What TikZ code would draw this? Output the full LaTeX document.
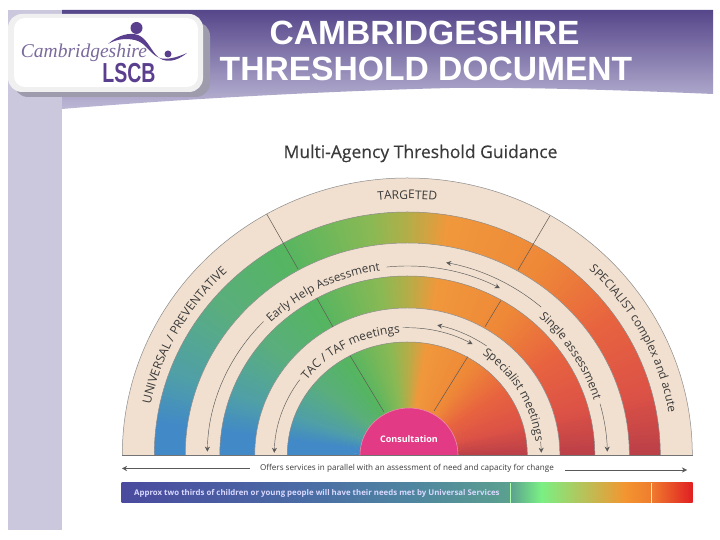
\documentclass[tikz,border=0pt]{standalone}
\usepackage{fontspec}
\setmainfont{Open Sans}
\newfontfamily\headfont{Liberation Sans}
\newfontfamily\logofont{Liberation Serif}
\usetikzlibrary{arrows.meta,decorations.text}
\definecolor{strip}{HTML}{CBC8DD}
\definecolor{headtop}{HTML}{56468A}
\definecolor{headbot}{HTML}{BDB8D6}
\definecolor{beige}{HTML}{F1E0CF}
\definecolor{ink}{HTML}{3A3A3A}
\definecolor{logop}{HTML}{5B3F8F}
\definecolor{logol}{HTML}{7A6A9C}
\definecolor{pink}{HTML}{E23A85}
\definecolor{c0}{HTML}{BC4048}
\definecolor{c1}{HTML}{DC5246}
\definecolor{c2}{HTML}{E8643F}
\definecolor{c3}{HTML}{EE8838}
\definecolor{c4}{HTML}{F0983C}
\definecolor{c5}{HTML}{B5AD48}
\definecolor{c6}{HTML}{8AB954}
\definecolor{c7}{HTML}{55B561}
\definecolor{c8}{HTML}{5AAE7D}
\definecolor{c9}{HTML}{4F9FA8}
\definecolor{c10}{HTML}{4189C7}
\definecolor{barA}{HTML}{4A4A9E}
\definecolor{barB}{HTML}{4A6BA5}
\definecolor{barC}{HTML}{4F85A0}
\definecolor{barD}{HTML}{5BA08F}
\definecolor{barE}{HTML}{7AF084}
\definecolor{barF}{HTML}{F39530}
\definecolor{barG}{HTML}{EF7C2E}
\definecolor{barH}{HTML}{E01F22}
\tikzset{
  curvedtext/.style 2 args={decorate,decoration={text along path,text align={align=center},
     text={|\fontsize{#1}{#1}\selectfont\color{ink}|#2}}},
  conn/.style={draw=black!65,line width=.45pt},
  tipped/.style={-{Stealth[length=5pt,width=5pt]}},
  backtipped/.style={{Stealth[length=5pt,width=5pt]}-},
  divider/.style={draw=black!60!beige,line width=.5pt},
  edge line/.style={draw=black!45,line width=.5pt}
}
\newcommand\fanlayer[2]{%
  \foreach \ta/\tb/\ca/\cb in {0/15/c0/c1,15/35/c1/c2,35/55/c2/c3,55/80/c3/c4,80/89/c4/c5,89/98/c5/c6,98/120/c6/c7,120/140/c7/c8,140/160/c8/c9,160/172/c9/c10,172/181/c10/c10}{%
    \pgfmathtruncatemacro\tc{\tb-1}%
    \foreach \a in {\ta,...,\tc}{%
      \pgfmathsetmacro\p{100*(\a-\ta)/(\tb-\ta)}%
      \colorlet{fanc}{\cb!\p!\ca}%
      \fill[fanc] (0,0) -- (\a:#1 and #2) -- ({\a+1.5}:#1 and #2) -- cycle;
    }%
  }%
  \draw[edge line] (0:#1 and #2) arc[start angle=0,end angle=180,x radius=#1,y radius=#2];
}
\begin{document}
\begin{tikzpicture}[x=1pt,y=1pt]
\useasboundingbox (0,0) rectangle (720,540);
\fill[white] (0,0) rectangle (720,540);
% strip and header
\fill[strip] (8,10) rectangle (62,530);
\shade[top color=headtop,bottom color=headbot] (62,530) -- (713,530) -- (713,446)
  .. controls (620,450) and (520,453) .. (450,452)
  .. controls (330,449) and (180,441) .. (62,431) -- cycle;
% logo box
\fill[black!22!strip,rounded corners=14pt] (14,443) rectangle (210,518);
\fill[black!6,rounded corners=14pt] (8,448) rectangle (203,526);
\fill[white,rounded corners=11pt] (14,453) rectangle (198,522);
\node[font=\logofont\itshape\fontsize{19.5}{20}\selectfont,text=logol,inner sep=0pt] (logoname) at (84,487) {Cambridgeshire};
\node[font=\headfont\bfseries\fontsize{27.5}{28}\selectfont,text=logop,inner sep=0pt,xscale=.71,transform shape] (logolscb) at (129,467) {LSCB};
\fill[logop] (136.5,512) circle (6);
\fill[logop] (168,486) circle (3.5);
\fill[logop] (108,496) .. controls (118,505) and (130,508) .. (138,505)
  .. controls (146,502) and (150,492) .. (156,485)
  .. controls (164,476) and (176,478) .. (187,487)
  .. controls (176,482) and (166,480) .. (160,482)
  .. controls (152,484) and (146,496) .. (138,499)
  .. controls (130,502) and (118,502) .. (108,496) -- cycle;
\node[font=\headfont\bfseries\fontsize{33.6}{36}\selectfont,text=white,inner sep=0pt] (title1) at (424.5,507) {CAMBRIDGESHIRE};
\node[font=\headfont\bfseries\fontsize{33.6}{36}\selectfont,text=white,inner sep=0pt] (title2) at (426,471) {THRESHOLD DOCUMENT};
\node[font=\fontsize{17.5}{18}\selectfont\addfontfeature{FakeBold=0.3},text=ink,inner sep=0pt] (guidance) at (420.5,386.5) {Multi-Agency Threshold Guidance};
% rainbow
\begin{scope}[shift={(407.3,85)}]
  \fill[beige] (-285,0) arc[start angle=180,end angle=0,x radius=285,y radius=277] -- cycle;
  \draw[edge line] (-285,0) arc[start angle=180,end angle=0,x radius=285,y radius=277];
  \begin{scope}
    \clip (-300,0) rectangle (300,300);
    \fanlayer{253}{243}
    \fill[beige] (-222,0) arc[start angle=180,end angle=0,x radius=222,y radius=212] -- cycle;
    \draw[edge line] (-222,0) arc[start angle=180,end angle=0,x radius=222,y radius=212];
    \fanlayer{187.5}{179}
    \fill[beige] (-152.5,0) arc[start angle=180,end angle=0,x radius=152.5,y radius=147] -- cycle;
    \draw[edge line] (-152.5,0) arc[start angle=180,end angle=0,x radius=152.5,y radius=147];
    \fanlayer{120}{113}
  \end{scope}
  \draw[black!55,line width=.6pt] (-285,0) -- (285.4,0);
  % curved labels
  \path[curvedtext={12}{UNIVERSAL / PREVENTATIVE}] (180:262 and 251.5) arc[start angle=180,end angle=122,x radius=262,y radius=251.5];
  \path[curvedtext={12}{TARGETED}] (120:267 and 256) arc[start angle=120,end angle=60,x radius=267,y radius=256];
  \path[curvedtext={11.7}{SPECIALIST  complex and acute}] (60:265 and 254.5) arc[start angle=60,end angle=-4,x radius=265,y radius=254.5];
  \path[curvedtext={11.7}{Early Help Assessment}] (146:194 and 186) arc[start angle=146,end angle=87,x radius=194,y radius=186];
  \path[curvedtext={11.9}{Single assessment}] (62:195 and 187) arc[start angle=62,end angle=2,x radius=195,y radius=187];
  \path[curvedtext={12}{TAC / TAF meetings}] (158:127 and 122) arc[start angle=158,end angle=78,x radius=127,y radius=122];
  \path[curvedtext={11.9}{Specialist meetings}] (70:129 and 124) arc[start angle=70,end angle=-10,x radius=129,y radius=124];
  % connectors
  \coordinate (ehstart) at (136:200 and 192);
  \draw[conn,tipped] (ehstart) arc[start angle=136,end angle=179,x radius=200,y radius=192];
  \coordinate (ehend) at (96:197 and 189);
  \draw[conn,tipped] (ehend) arc[start angle=96,end angle=62,x radius=197,y radius=189];
  \coordinate (sahead) at (79:204 and 196);
  \draw[conn,backtipped] (sahead) arc[start angle=79,end angle=49,x radius=204,y radius=196];
  \coordinate (saend) at (15.5:200 and 192);
  \draw[conn,tipped] (saend) arc[start angle=15.5,end angle=1,x radius=200,y radius=192];
  \coordinate (tacstart) at (144:133 and 128);
  \draw[conn,tipped] (tacstart) arc[start angle=144,end angle=179,x radius=133,y radius=128];
  \coordinate (tacend) at (92:132.6 and 127.3);
  \draw[conn,tipped] (tacend) arc[start angle=92,end angle=60.5,x radius=132.6,y radius=127.3];
  \coordinate (smhead) at (77.5:138.5 and 133);
  \draw[conn,backtipped] (smhead) arc[start angle=77.5,end angle=55,x radius=138.5,y radius=133];
  \coordinate (smend) at (6:134 and 128.6);
  \draw[conn,tipped] (smend) arc[start angle=6,end angle=1,x radius=134,y radius=128.6];
\end{scope}
% dividers
\draw[divider] (266.7,326) -- (298,271);
\draw[divider] (316.7,242) -- (333,213);
\draw[divider] (350,184.3) -- (384,128);
\draw[divider] (550,324.3) -- (518,270);
\draw[divider] (500.7,239.3) -- (485,213.3);
\draw[divider] (467.7,183.3) -- (434,129);
% consultation
\fill[pink] (360,85) arc[start angle=180,end angle=0,x radius=49,y radius=47] -- cycle;
\draw[draw=pink!50!beige,line width=.6pt] (360,85) arc[start angle=180,end angle=0,x radius=49,y radius=47];
\node[font=\bfseries\fontsize{9}{10}\selectfont,text=white,inner sep=0pt] (consult) at (409,101) {Consultation};
% bottom arrow row
\node[font=\fontsize{8.1}{9}\selectfont,text=ink,inner sep=0pt] (offers) at (407,71.5) {Offers services in parallel with an assessment of need and capacity for change};
\coordinate (offerl) at (122,71.5);
\coordinate (offerr) at (687,70);
\draw[conn,tipped] (offers.west) ++(-10,0) -- (offerl);
\draw[conn,tipped] (offers.east) ++(11,-1.5) -- (offerr);
% bottom bar
\shade[left color=barA,right color=barB] (121.5,37) rectangle (300.3,57.3);
\shade[left color=barB,right color=barC] (300,37) rectangle (410.3,57.3);
\shade[left color=barC,right color=barD] (410,37) rectangle (510.3,57.3);
\shade[left color=barD,right color=barE] (510,37) rectangle (541.3,57.3);
\shade[left color=barE,right color=barF] (541,37) rectangle (625.3,57.3);
\shade[left color=barF,right color=barG] (625,37) rectangle (651.3,57.3);
\shade[left color=barG,right color=barH] (651,37) rectangle (692.7,57.3);
\draw[white!70!green,line width=.5pt] (510,37) -- (510,57.3);
\draw[white!80!orange,line width=.5pt] (651,37) -- (651,57.3);
\node[font=\bfseries\fontsize{7.85}{8}\selectfont,text=white!85!blue,inner sep=0pt,anchor=west] (barnote) at (134,47) {Approx two thirds of children or young people will have their needs met by Universal Services};
\end{tikzpicture}
\end{document}
